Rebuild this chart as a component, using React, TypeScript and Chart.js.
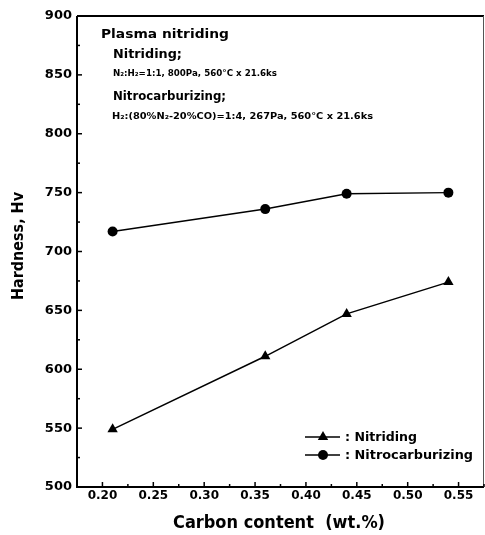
import React, { useEffect, useRef } from "react";
import { Chart, registerables } from "chart.js";

Chart.register(...registerables);

const carbonContent = [0.21, 0.36, 0.44, 0.54];
const nitridingHv = [549, 611, 647, 674];
const nitrocarburizingHv = [717, 736, 749, 750];
const xTickValues = [0.2, 0.25, 0.3, 0.35, 0.4, 0.45, 0.5, 0.55];
const yTickValues = [500, 550, 600, 650, 700, 750, 800, 850, 900];
const yTickLabels = ["500", "550", "600", "650", "700", "750", "800", "850", "900"];
const seriesNames = ["Nitriding", "Nitrocarburizing"];

const FONT = "'DejaVu Sans', 'Liberation Sans', Arial, sans-serif";

function fitText(
  ctx: CanvasRenderingContext2D,
  text: string,
  x: number,
  y: number,
  size: number,
  targetW: number,
  align: "left" | "center" = "left",
  rotate = false
) {
  ctx.save();
  ctx.font = `bold ${size}px ${FONT}`;
  const w = ctx.measureText(text).width;
  const s = targetW / w;
  ctx.translate(x, y);
  if (rotate) ctx.rotate(-Math.PI / 2);
  ctx.scale(s, 1);
  ctx.textAlign = align;
  ctx.textBaseline = "alphabetic";
  ctx.fillStyle = "#000";
  ctx.fillText(text, 0, 0);
  ctx.restore();
}

const decorPlugin = {
  id: "decor",
  afterDraw(chart: any) {
    const ctx: CanvasRenderingContext2D = chart.ctx;
    const { left, right, top, bottom } = chart.chartArea;
    const xs = chart.scales.x;
    const ys = chart.scales.y;
    ctx.save();
    // frame
    ctx.strokeStyle = "#000";
    ctx.lineWidth = 2;
    ctx.beginPath();
    ctx.moveTo(left, top);
    ctx.lineTo(left, bottom);
    ctx.lineTo(right, bottom);
    ctx.stroke();
    ctx.beginPath();
    ctx.moveTo(left, top);
    ctx.lineTo(right, top);
    ctx.stroke();
    ctx.strokeStyle = "#555";
    ctx.lineWidth = 1;
    ctx.beginPath();
    ctx.moveTo(right - 0.5, top);
    ctx.lineTo(right - 0.5, bottom);
    ctx.stroke();

    // inward ticks
    ctx.strokeStyle = "#000";
    ctx.lineWidth = 1.5;
    for (let v = 500; v <= 900; v += 25) {
      const py = ys.getPixelForValue(v);
      const len = v % 50 === 0 ? 5 : 3;
      ctx.beginPath();
      ctx.moveTo(left, py);
      ctx.lineTo(left + len, py);
      ctx.stroke();
    }
    for (let i = 0; i <= 16; i++) {
      const v = 0.175 + i * 0.025;
      if (v > 0.576) break;
      const px = xs.getPixelForValue(v);
      const len = i % 2 === 1 ? 5 : 3;
      ctx.beginPath();
      ctx.moveTo(px, bottom);
      ctx.lineTo(px, bottom - len);
      ctx.stroke();
    }

    // annotations
    fitText(ctx, "Plasma nitriding", 101, 38, 13, 128);
    fitText(ctx, "Nitriding;", 113, 58, 12, 69);
    fitText(ctx, "N\u2082:H\u2082=1:1, 800Pa, 560\u00B0C x 21.6ks", 113, 76, 8, 164);
    fitText(ctx, "Nitrocarburizing;", 113, 100, 12, 113);
    fitText(ctx, "H\u2082:(80%N\u2082-20%CO)=1:4, 267Pa, 560\u00B0C x 21.6ks", 112, 119, 8, 261);

    // axis titles
    fitText(ctx, "Hardness, Hv", 23, 246, 16, 108, "center", true);
    fitText(ctx, "Carbon content  (wt.%)", 279, 528, 17, 212, "center");

    // legend
    const rows = [437, 455];
    chart.data.datasets.forEach((ds: any, i: number) => {
      const y = rows[i];
      ctx.strokeStyle = "#000";
      ctx.lineWidth = 1.5;
      ctx.beginPath();
      ctx.moveTo(305, y);
      ctx.lineTo(340, y);
      ctx.stroke();
      ctx.fillStyle = "#000";
      ctx.beginPath();
      if (ds.pointStyle === "triangle") {
        const r = 6;
        ctx.moveTo(323, y - r);
        ctx.lineTo(323 + r * Math.sin((2 * Math.PI) / 3), y - r * Math.cos((2 * Math.PI) / 3));
        ctx.lineTo(323 + r * Math.sin((4 * Math.PI) / 3), y - r * Math.cos((4 * Math.PI) / 3));
        ctx.closePath();
      } else {
        ctx.arc(323, y, 5, 0, Math.PI * 2);
      }
      ctx.fill();
      const label = ": " + ds.label;
      fitText(ctx, label, 345, y + 4, 12, i === 0 ? 72 : 128);
    });
    ctx.restore();
  },
};

export default function App() {
  const ref = useRef<HTMLCanvasElement | null>(null);
  useEffect(() => {
    if (!ref.current) return;
    const chart = new Chart(ref.current, {
      type: "line",
      data: {
        datasets: [
          {
            label: seriesNames[0],
            data: carbonContent.map((x, i) => ({ x, y: nitridingHv[i] })),
            borderColor: "#000",
            backgroundColor: "#000",
            borderWidth: 1.5,
            pointStyle: "triangle",
            pointRadius: 6,
            pointBorderWidth: 0,
          },
          {
            label: seriesNames[1],
            data: carbonContent.map((x, i) => ({ x, y: nitrocarburizingHv[i] })),
            borderColor: "#000",
            backgroundColor: "#000",
            borderWidth: 1.5,
            pointStyle: "circle",
            pointRadius: 5,
            pointBorderWidth: 0,
          },
        ],
      },
      options: {
        animation: false,
        responsive: false,
        layout: { autoPadding: false, padding: { top: 16, right: 1, left: 0, bottom: 0 } },
        plugins: { legend: { display: false }, tooltip: { enabled: false } },
        scales: {
          x: {
            type: "linear",
            min: 0.175,
            max: 0.575,
            afterBuildTicks: (scale: any) => {
              scale.ticks = xTickValues.map((v) => ({ value: v }));
            },
            afterFit: (scale: any) => {
              scale.height = 48;
              scale.paddingLeft = 0;
              scale.paddingRight = 0;
            },
            grid: { display: false, drawTicks: false },
            border: { display: false },
            ticks: {
              autoSkip: false,
              maxRotation: 0,
              padding: 2,
              color: "#000",
              font: { family: FONT, size: 12, weight: "bold" },
              callback: (v: any) => Number(v).toFixed(2),
            },
          },
          y: {
            type: "linear",
            min: 500,
            max: 900,
            afterBuildTicks: (scale: any) => {
              scale.ticks = yTickValues.map((v) => ({ value: v }));
            },
            afterFit: (scale: any) => {
              scale.width = 77;
              scale.paddingTop = 0;
              scale.paddingBottom = 0;
            },
            grid: { display: false, drawTicks: false },
            border: { display: false },
            ticks: {
              autoSkip: false,
              padding: 5,
              color: "#000",
              font: { family: FONT, size: 13, weight: "bold" },
              callback: (_v: any, i: number) => yTickLabels[i],
            },
          },
        },
      } as any,
      plugins: [decorPlugin],
    });
    return () => chart.destroy();
  }, []);
  return (
    <div style={{ position: "absolute", left: 0, top: 0, width: 485, height: 535, background: "#fff" }}>
      <canvas ref={ref} width={485} height={535} style={{ display: "block" }} />
    </div>
  );
}
